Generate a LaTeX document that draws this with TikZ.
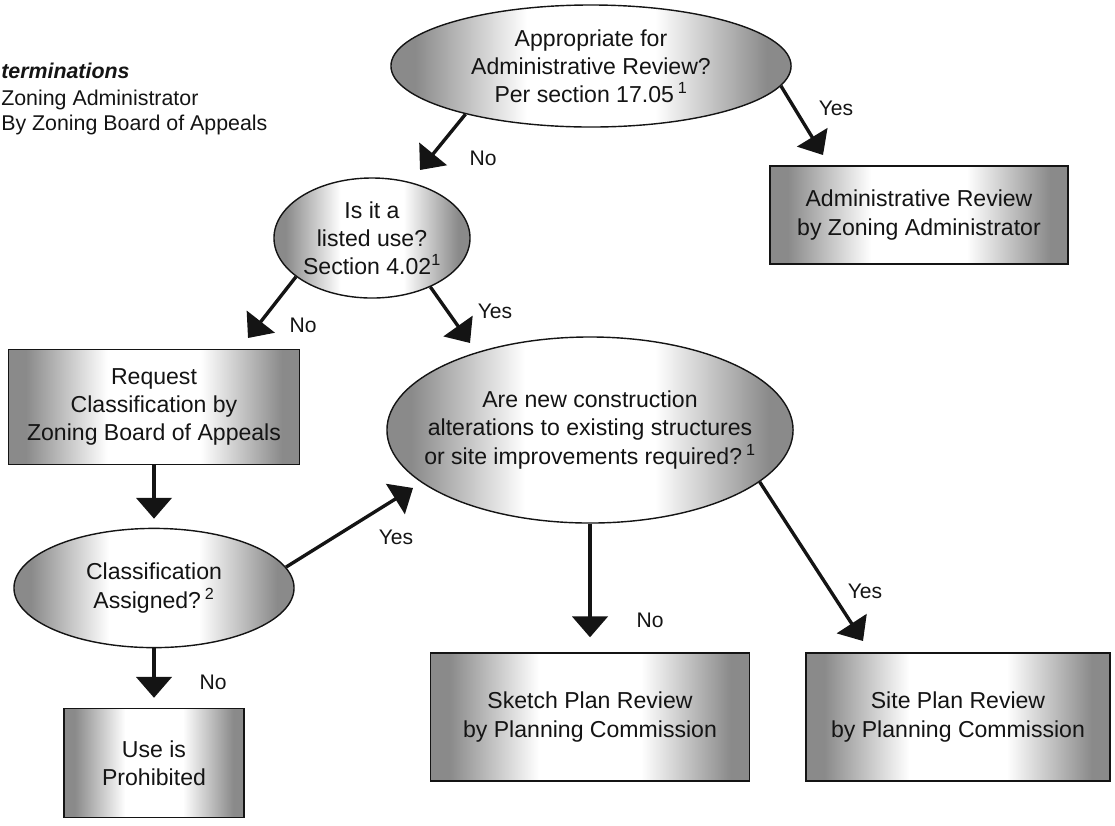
\documentclass[tikz,border=0pt]{standalone}
\usepackage{fontspec}
\setmainfont{Liberation Sans}
\usetikzlibrary{
  arrows.meta,
  shapes.geometric
}
\definecolor{znInk}{HTML}{141414}
\definecolor{znEdge}{HTML}{8A8A8A}
\pgfdeclarehorizontalshading{znMetal}{100bp}{color(0bp)=(znEdge); color(28bp)=(znEdge); color(42bp)=(white); color(58bp)=(white); color(72bp)=(znEdge); color(100bp)=(znEdge)}
\tikzset{
  znnode/.style={
    draw=znInk, line width=1pt, shade, shading=znMetal, align=center,
    text=znInk, font=\fontsize{16.4}{20}\selectfont
  },
  decision/.style={znnode, ellipse, inner xsep=-2mm, inner ysep=0pt},
  outcome/.style={znnode, rectangle, inner sep=0pt},
  flow/.style={-{Triangle[length=5.2mm, width=8.8mm]}, line width=2.4pt, znInk},
  answer/.style={font=\fontsize{15}{18}\selectfont, text=znInk, inner sep=0pt},
  legend/.style={font=\fontsize{15.2}{18}\selectfont, text=znInk, inner sep=0pt, anchor=base west}
}

\begin{document}
\begin{tikzpicture}[x=0.025cm, y=-0.025cm]
  \useasboundingbox (0,0) rectangle (1115,825);
  % legend at the top left
  \node[legend, font=\fontsize{15.2}{18}\selectfont\bfseries\itshape] (lgTitle) at (1,78) {terminations};
  \node[legend] (lgZA) at (1,105) {Zoning Administrator};
  \node[legend] (lgZBA) at (1,130) {By Zoning Board of Appeals};

  \node[decision, minimum width=10cm, minimum height=3.05cm] (adm) at (591,66)
    {Appropriate for\\Administrative Review?\\Per section 17.05\,\textsuperscript{1}};
  \node[outcome, minimum width=7.45cm, minimum height=2.45cm] (admRev) at (919,215)
    {Administrative Review\\by Zoning Administrator};
  \node[decision, minimum width=4.9cm, minimum height=3cm] (lst) at (372,238)
    {Is it a\\listed use?\\Section 4.02\textsuperscript{1}};
  \node[outcome, minimum width=7.275cm, minimum height=2.875cm] (req) at (154,407)
    {Request\\Classification by\\Zoning Board of Appeals};
  \node[decision, minimum width=7cm, minimum height=2.98cm] (cls) at (154,588)
    {Classification\\Assigned?\,\textsuperscript{2}};
  \node[outcome, minimum width=4.5cm, minimum height=2.725cm] (proh) at (154,763)
    {Use is\\Prohibited};
  \node[decision, inner xsep=-6mm, minimum width=10.15cm, minimum height=4.65cm] (cons) at (590,430)
    {Are new construction\\alterations to existing structures\\or site improvements required?\,\textsuperscript{1}};
  \node[outcome, minimum width=7.975cm, minimum height=3.2cm] (sketch) at (590,717)
    {Sketch Plan Review\\by Planning Commission};
  \node[outcome, minimum width=7.6cm, minimum height=3.2cm] (site) at (958,717)
    {Site Plan Review\\by Planning Commission};

  % arrow tips that stop short of their targets
  \coordinate (tipLst) at (420,170);
  \coordinate (tipAdmRev) at (823,155);
  \coordinate (tipReq) at (248,338);
  \coordinate (tipCons) at (470,343);
  \coordinate (tipConsB) at (413,488);
  \coordinate (tipSite) at (863,641);

  \draw[flow] (adm.201) -- (tipLst);
  \draw[flow] (adm.-6) -- (tipAdmRev);
  \draw[flow] (lst.207) -- (tipReq);
  \draw[flow] (lst.-40) -- (tipCons);
  \draw[flow, shorten >=0.225cm] (req) -- (cls);
  \draw[flow] (cls.9) -- (tipConsB);
  \draw[flow, shorten >=0.25cm] (cls) -- (proh);
  \draw[flow, shorten >=0.375cm] (cons) -- (sketch);
  \draw[flow] (cons.-17) -- (tipSite);

  \node[answer] (ansNoA) at (483,158) {No};
  \node[answer] (ansYesA) at (836,108) {Yes};
  \node[answer] (ansNoB) at (303,325) {No};
  \node[answer] (ansYesB) at (495,311) {Yes};
  \node[answer] (ansYesC) at (396,537) {Yes};
  \node[answer] (ansNoC) at (213,682) {No};
  \node[answer] (ansNoD) at (650,620) {No};
  \node[answer] (ansYesD) at (865,591) {Yes};
\end{tikzpicture}
\end{document}
